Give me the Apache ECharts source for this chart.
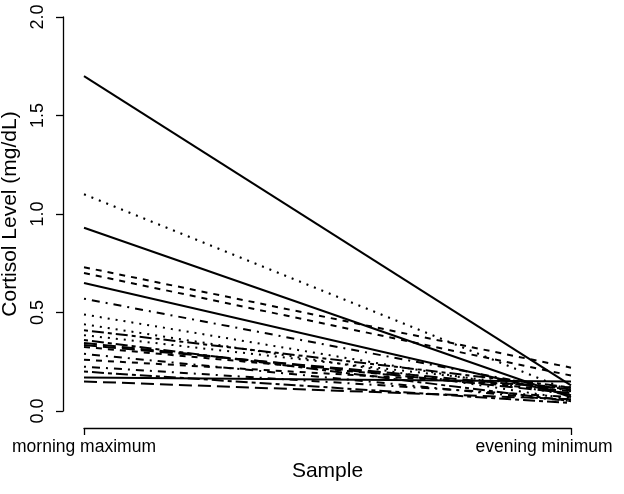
<!DOCTYPE html>
<html>
<head>
<meta charset="utf-8">
<script src="https://cdn.jsdelivr.net/npm/echarts@6/dist/echarts.min.js"></script>
<style>
html,body{margin:0;padding:0;background:#fff;}
#chart{width:624px;height:494px;}
</style>
</head>
<body>
<div id="chart"></div>
<script>
// Sample categories (x positions 1 and 2)
const samples = ['morning maximum', 'evening minimum'];
// Cortisol per subject (mg/dL), ordered as plotted
const morningMax = [1.70, 0.73, 1.10, 0.57, 0.345, 0.41, 0.93, 0.70, 0.49, 0.29, 0.335, 0.36, 0.65, 0.325, 0.44, 0.225, 0.15, 0.20, 0.17, 0.26, 0.385];
const eveningMin = [0.13, 0.22, 0.10, 0.10, 0.09, 0.12, 0.07, 0.18, 0.08, 0.05, 0.11, 0.05, 0.08, 0.10, 0.06, 0.07, 0.06, 0.04, 0.15, 0.12, 0.11];
const yTicks = [0, 0.5, 1.0, 1.5, 2.0];

// R-style line types, cycled 1:6 like matplot
const ltys = ['solid', [6, 6], [2, 6], [2, 6, 8, 6], [13, 6], [4, 4, 12, 4]];

const FONT = '"Liberation Sans", Arial, sans-serif';
const series = morningMax.map((m, i) => ({
  type: 'line',
  data: [[1, m], [2, eveningMin[i]]],
  symbol: 'none',
  silent: true,
  clip: false,
  lineStyle: { color: '#000', width: 2, type: ltys[i % 6] }
}));

const chart = echarts.init(document.getElementById('chart'), null, { renderer: 'canvas' });
chart.setOption({
  animation: false,
  backgroundColor: '#fff',
  grid: { left: 84, right: 53, top: 17, bottom: 83, containLabel: false, outerBoundsMode: 'none' },
  xAxis: {
    type: 'value', min: 1, max: 2, interval: 1,
    position: 'bottom', offset: 17,
    axisLine: { show: true, onZero: false, lineStyle: { color: '#000', width: 1.3 } },
    axisTick: { show: true, length: 7, inside: false, lineStyle: { color: '#000', width: 1.3 } },
    splitLine: { show: false },
    axisLabel: {
      color: '#000', fontFamily: FONT, fontSize: 17.5, margin: 10,
      formatter: v => (v === 2 ? '{r|' + samples[1] + '}' : samples[v - 1]),
      rich: { r: { color: '#000', fontFamily: FONT, fontSize: 17.5, padding: [0, 54, 0, 0] } }
    },
    name: 'Sample', nameLocation: 'middle', nameGap: 33,
    nameTextStyle: { color: '#000', fontFamily: FONT, fontSize: 21 }
  },
  yAxis: {
    type: 'value', min: yTicks[0], max: yTicks[yTicks.length - 1], interval: 0.5,
    position: 'left', offset: 21,
    axisLine: { show: true, lineStyle: { color: '#000', width: 1.3 } },
    axisTick: { show: true, length: 7, inside: false, lineStyle: { color: '#000', width: 1.3 } },
    splitLine: { show: false },
    axisLabel: {
      color: '#000', fontFamily: FONT, fontSize: 18, rotate: 90, margin: 16,
      formatter: v => v.toFixed(1)
    },
    name: 'Cortisol Level (mg/dL)', nameLocation: 'middle', nameGap: 37, nameRotate: 90,
    nameTextStyle: { color: '#000', fontFamily: FONT, fontSize: 21 }
  },
  series: series
});
</script>
</body>
</html>
